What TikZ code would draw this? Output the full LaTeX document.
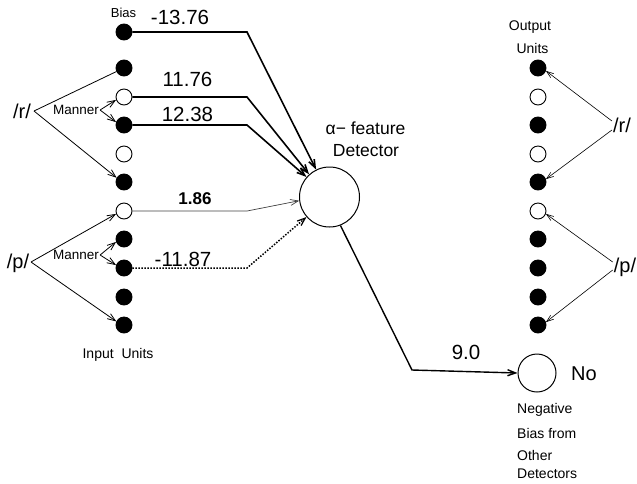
\documentclass[tikz,border=0pt]{standalone}
\usepackage{fontspec}
\setmainfont{Liberation Sans}
\usetikzlibrary{arrows.meta}
\begin{document}
\begin{tikzpicture}[x=1pt,y=-1pt,
  fs/.style={font=\fontsize{#1}{#1}\selectfont},
  unitfill/.style={circle,draw,fill=black,minimum size=16pt,inner sep=0pt,line width=0.9pt},
  unitopen/.style={circle,draw,fill=white,minimum size=16pt,inner sep=0pt,line width=0.9pt},
  bigunit/.style={circle,draw,minimum size=#1,inner sep=0pt,line width=1pt},
  lbl/.style={inner sep=0pt,fs=#1},
  small/.style={inner sep=0pt,fs=14,anchor=base west},
  barb/.style={-{Straight Barb[length=8pt,width=6pt]}},
  thinbarb/.style={-{Straight Barb[length=7pt,width=5pt]},line width=0.6pt},
  feed/.style={barb,line width=0.8pt},
  weight/.style={barb,line width=1.6pt},
  dotweight/.style={line width=1.5pt,dash pattern=on 1.5pt off 1.5pt,
    -{Straight Barb[length=8pt,width=6pt,line width=1.2pt]}},
]
\useasboundingbox (0,0) rectangle (637,483);

% input column
\node[unitfill] (in0) at (124,32) {};
\node[unitfill] (in1) at (124,68) {};
\node[unitopen] (in2) at (124,97) {};
\node[unitfill] (in3) at (124,125) {};
\node[unitopen] (in4) at (124,154) {};
\node[unitfill] (in5) at (124,182) {};
\node[unitopen] (in6) at (124,211) {};
\node[unitfill] (in7) at (124,239) {};
\node[unitfill] (in8) at (124,268) {};
\node[unitfill] (in9) at (124,297) {};
\node[unitfill] (in10) at (124,325) {};

% output column
\node[unitfill] (out1) at (538,68) {};
\node[unitopen] (out2) at (538,97) {};
\node[unitfill] (out3) at (538,125) {};
\node[unitopen] (out4) at (538,154) {};
\node[unitfill] (out5) at (538,182) {};
\node[unitopen] (out6) at (538,211) {};
\node[unitfill] (out7) at (538,239) {};
\node[unitfill] (out8) at (538,268) {};
\node[unitfill] (out9) at (538,297) {};
\node[unitfill] (out10) at (538,325) {};

% detector and decision unit
\node[bigunit=60pt] (det) at (329.5,197) {};
\node[bigunit=38pt] (no) at (537,373) {};

% labels
\node[lbl=13] (biaslbl) at (123.5,12.5) {Bias};
\node[lbl=14] (inlbl) at (118,355) {Input~~Units};
\node[lbl=14] (outlbl1) at (530,27.5) {Output};
\node[lbl=14] (outlbl2) at (532.5,48) {Units};
\node[lbl=17.5] (detlbl1) at (365.5,128) {α− feature};
\node[lbl=17.5] (detlbl2) at (366,150.5) {Detector};
\node[lbl=20] (nolbl) at (584,373.5) {No};
\node[lbl=20] (rL) at (22,111) {/r/};
\node[lbl=20] (pL) at (18,263) {/p/};
\node[lbl=20] (rR) at (622,125) {/r/};
\node[lbl=20] (pR) at (625,267) {/p/};
\node[lbl=13.5] (mr) at (76,110) {Manner};
\node[lbl=13.5] (mp) at (76,255) {Manner};
\node[small] (neg1) at (517,413) {Negative};
\node[small] (neg2) at (517,438) {Bias from};
\node[small] (neg3) at (517,460) {Other};
\node[small] (neg4) at (517,478) {Detectors};

% weight labels
\node[lbl=20.5] (w0) at (180,17.5) {-13.76};
\node[lbl=20.5] (w2) at (187.5,79.5) {11.76};
\node[lbl=20.5] (w3) at (187.5,114.5) {12.38};
\node[lbl=17,font=\fontsize{17}{17}\bfseries] (w6) at (195,198.5) {1.86};
\node[lbl=20.5] (w8) at (183,259.5) {-11.87};
\node[lbl=20.5] (wo) at (466,352) {9.0};

% bend points of the weighted connections
\coordinate (b0) at (247,32);
\coordinate (b2) at (247,97);
\coordinate (b3) at (247,125);
\coordinate (b6) at (247,211);
\coordinate (b8) at (247,268);
\coordinate (bo) at (412,370);

% weighted connections into the detector
\draw[weight] (in0.east) -- (b0) -- (det.116);
\draw[weight] (in2.east) -- (b2) -- (det.132);
\draw[weight] (in3.east) -- (b3) -- (det.139);
\draw[barb,line width=0.7pt,draw=black!75] (in6.east) -- (b6) -- (det.187);
\draw[dotweight] (in8.east) -- (b8) -- (det.221);

% detector output
\draw[barb,line width=1.4pt] (det.291) -- (bo) -- (no.west);

% phoneme feeds into the input column
\coordinate (rs) at (34,111);
\coordinate (ps) at (31,262);
\draw[line width=0.8pt] (rs) -- (in1.205);
\draw[feed] (rs) -- (in5.150);
\draw[feed] ([xshift=1pt]mr.east) -- (in2.200);
\draw[feed] ([xshift=1pt]mr.east) -- (in3.160);
\draw[feed] (ps) -- (in6.200);
\draw[feed] (ps) -- (in10.155);
\draw[feed] ([xshift=1pt]mp.east) -- (in7.200);
\draw[feed] ([xshift=1pt]mp.east) -- (in8.160);

% phoneme targets in the output column
\draw[thinbarb] ([xshift=-1pt,yshift=4pt]rR.west) -- (out1.-20);
\draw[thinbarb] ([xshift=-1pt,yshift=-5pt]rR.west) -- (out5.20);
\draw[thinbarb] ([xshift=-1pt,yshift=5pt]pR.west) -- (out6.-20);
\draw[thinbarb] ([xshift=-1pt,yshift=-3pt]pR.west) -- (out10.20);
\end{tikzpicture}
\end{document}
